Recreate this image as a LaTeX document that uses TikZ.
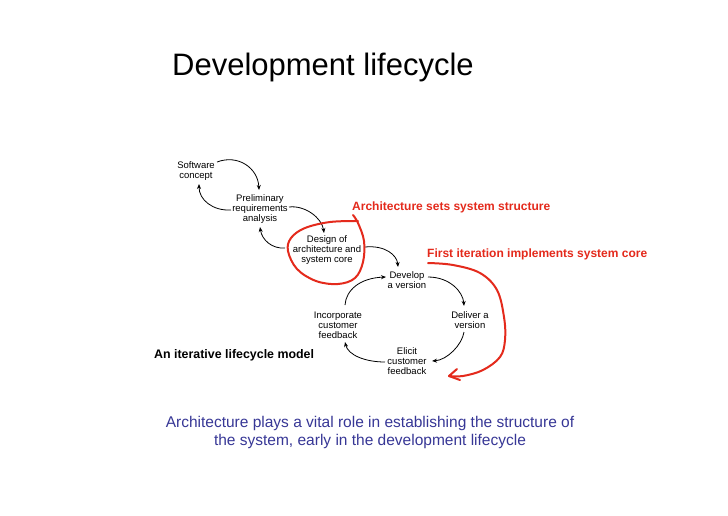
\documentclass[tikz,border=0pt]{standalone}
\usepackage{fontspec}
\setmainfont{Liberation Sans}
\usetikzlibrary{arrows.meta}
\definecolor{annred}{RGB}{228,42,28}
\definecolor{msgblue}{RGB}{55,55,150}
\begin{document}
\begin{tikzpicture}[x=1pt,y=-1pt,
  lbl/.style={font=\fontsize{9.5}{10}\selectfont, align=center, inner sep=0pt},
  flow/.style={line width=0.8pt, -{Stealth[length=5pt,width=4pt]}},
  hand/.style={draw=annred, line width=2pt, line cap=round, line join=round},
  redlbl/.style={font=\fontsize{12}{14}\selectfont\bfseries, text=annred, inner sep=0pt, anchor=base west}]
\useasboundingbox (0,0) rectangle (728,515);
\fill[white] (0,0) rectangle (728,515);

% title
\node[anchor=base west, inner sep=0pt, font=\fontsize{31}{37}\selectfont] (title) at (172,75) {Development lifecycle};

% lifecycle nodes
\node[lbl] (sc)  at (196,171) {Software\\concept};
\node[lbl] (pra) at (260,209) {Preliminary\\requirements\\analysis};
\node[lbl] (das) at (327,250) {Design of\\architecture and\\system core};
\node[lbl] (dev) at (407,280) {Develop\\a version};
\node[lbl] (del) at (470,320) {Deliver a\\version};
\node[lbl] (eli) at (407,361) {Elicit\\customer\\feedback};
\node[lbl] (inc) at (338,325) {Incorporate\\customer\\feedback};

% connectors
\draw[flow] ([shift={(21,-9)}]sc.center) .. controls (238,154) and (258,168) .. ([shift={(-1,-19)}]pra.center);
\draw[flow] ([shift={(-29,1)}]pra.center) .. controls (213,211) and (199,200) .. ([shift={(3,13)}]sc.center);
\draw[flow] ([shift={(29,-2)}]pra.center) .. controls (305,205) and (322,218) .. ([shift={(-3,-17)}]das.center);
\draw[flow] ([shift={(-42,-2)}]das.center) .. controls (272,249) and (262,240) .. ([shift={(0,18)}]pra.center);
\draw[flow] ([shift={(38,-3)}]das.center) .. controls (385,245) and (397,255) .. ([shift={(-9,-13)}]dev.center);
\draw[flow] ([shift={(21,-3)}]dev.center) .. controls (450,277) and (463,292) .. ([shift={(-6,-14)}]del.center);
\draw[flow] ([shift={(-6,12)}]del.center) .. controls (462,345) and (447,360) .. ([shift={(25,0)}]eli.center);
\draw[flow] ([shift={(-22,1)}]eli.center) .. controls (365,362) and (348,355) .. ([shift={(7,17)}]inc.center);
\draw[flow] ([shift={(7,-20)}]inc.center) .. controls (346,290) and (360,278) .. ([shift={(-21,-3)}]dev.center);

% annotations
\node[redlbl] (t1) at (352,210) {Architecture sets system structure};
\node[redlbl] (t2) at (427,257) {First iteration implements system core};
\node[anchor=base west, inner sep=0pt, font=\fontsize{12.4}{14}\selectfont\bfseries] (cap) at (154,358) {An iterative lifecycle model};

% hand-drawn loop around design node
\draw[hand] plot[smooth, tension=0.6] coordinates {(353,215) (358,223) (364,241) (363,262) (355,278) (338,284) (316,281) (297,269) (288,251) (291,238) (305,228) (330,222) (358,221)};
% hand-drawn arrow
\draw[hand] plot[smooth, tension=0.6] coordinates {(428,263) (453,265) (480,273) (497,290) (504,317) (505,340) (500,357) (483,370) (463,376) (449,376)};
\draw[hand] (457,369) -- (449,376) -- (460,380);

% message
\node[align=center, inner sep=0pt, text=msgblue, font=\fontsize{15.5}{18}\selectfont] (msg) at (370,432) {Architecture plays a vital role in establishing the structure of\\the system, early in the development lifecycle};
\end{tikzpicture}
\end{document}
